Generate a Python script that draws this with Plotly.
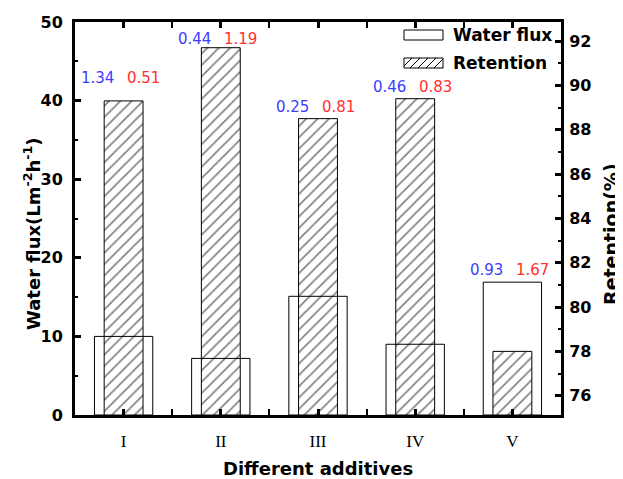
import plotly.graph_objects as go

# ---- data ----
categories = ["I", "II", "III", "IV", "V"]
water_flux = [10.0, 7.2, 15.1, 9.0, 16.9]          # Lm-2h-1 (left axis)
retention = [89.3, 91.7, 88.5, 89.4, 78.0]          # % (right axis)
flux_labels = ["1.34", "0.44", "0.25", "0.46", "0.93"]
retention_labels = ["0.51", "1.19", "0.81", "0.83", "1.67"]

xpos = list(range(1, len(categories) + 1))

Y1_RANGE = [0, 50]
Y2_RANGE = [75.13, 92.86]

BOLD = "DejaVu Sans"
W, H = 623, 479
# plot area in page pixels (page shows the figure offset by the body margin)
PAGE_OFF = 8
P_L, P_R, P_T, P_B = 75, 561, 22, 415
ML = P_L - PAGE_OFF
MT = P_T - PAGE_OFF
MR = W - (P_R - PAGE_OFF)
MB = H - (P_B - PAGE_OFF)
PW, PH = P_R - P_L, P_B - P_T


def px_x(p):
    return (p - P_L) / PW


def px_y(p):
    return (P_B - p) / PH


fig = go.Figure()

fig.add_trace(go.Bar(
    x=xpos, y=water_flux, width=0.6, name="Water flux",
    marker=dict(color="rgba(0,0,0,0)", line=dict(color="black", width=1)),
    yaxis="y", showlegend=False,
))
fig.add_trace(go.Bar(
    x=xpos, y=retention, width=0.4, name="Retention",
    marker=dict(color="rgba(0,0,0,0)", line=dict(color="black", width=1),
                pattern=dict(shape="/", fgcolor="black", bgcolor="rgba(0,0,0,0)",
                             size=8, solidity=0.2)),
    yaxis="y2", showlegend=False,
))

# value labels above each pair of bars
lift = [23, 9, 12, 12, 12]
annotations = []
for i, x in enumerate(xpos):
    f_frac = (water_flux[i] - Y1_RANGE[0]) / (Y1_RANGE[1] - Y1_RANGE[0])
    r_frac = (retention[i] - Y2_RANGE[0]) / (Y2_RANGE[1] - Y2_RANGE[0])
    if f_frac > r_frac:
        yref, yv = "y", water_flux[i]
    else:
        yref, yv = "y2", retention[i]
    annotations.append(dict(x=x, y=yv, xref="x", yref=yref, text=flux_labels[i],
                            showarrow=False, xanchor="center", yanchor="middle",
                            xshift=-26, yshift=lift[i],
                            font=dict(family="DejaVu Sans", size=15, color="#3c3cff")))
    annotations.append(dict(x=x, y=yv, xref="x", yref=yref, text=retention_labels[i],
                            showarrow=False, xanchor="center", yanchor="middle",
                            xshift=20, yshift=lift[i],
                            font=dict(family="DejaVu Sans", size=15, color="#ff3030")))

# custom legend (top right)
shapes = []
shapes.append(dict(type="rect", xref="paper", yref="paper",
                   x0=px_x(404), x1=px_x(443), y0=px_y(40), y1=px_y(30),
                   line=dict(color="black", width=1), fillcolor="white"))
shapes.append(dict(type="rect", xref="paper", yref="paper",
                   x0=px_x(404), x1=px_x(443), y0=px_y(68), y1=px_y(58),
                   line=dict(color="black", width=1), fillcolor="white"))
for k in range(6):
    xa = 404 + k * 8
    x0, y0 = xa - 2, 68
    x1, y1 = xa + 8, 58
    if x0 < 404:
        y0 = 68 - (404 - x0)
        x0 = 404
    if x1 > 443:
        y1 = 58 + (x1 - 443)
        x1 = 443
    if x1 <= x0:
        continue
    shapes.append(dict(type="line", xref="paper", yref="paper",
                       x0=px_x(x0), y0=px_y(y0), x1=px_x(x1), y1=px_y(y1),
                       line=dict(color="black", width=1)))
annotations.append(dict(xref="paper", yref="paper", x=px_x(451), y=px_y(35),
                        text="<b>Water flux</b>", showarrow=False,
                        xanchor="left", yanchor="middle",
                        font=dict(family=BOLD, size=17, color="black")))
annotations.append(dict(xref="paper", yref="paper", x=px_x(451), y=px_y(63),
                        text="<b>Retention</b>", showarrow=False,
                        xanchor="left", yanchor="middle",
                        font=dict(family=BOLD, size=17, color="black")))

# axis titles placed as annotations
annotations.append(dict(xref="paper", yref="paper", x=px_x(318), y=px_y(468),
                        text="<b>Different additives</b>", showarrow=False,
                        xanchor="center", yanchor="middle",
                        font=dict(family=BOLD, size=18, color="black")))
annotations.append(dict(xref="paper", yref="paper", x=px_x(32), y=px_y(234),
                        text="<b>Water flux(Lm<sup>-2</sup>h<sup>-1</sup>)</b>",
                        showarrow=False, textangle=-90,
                        xanchor="center", yanchor="middle",
                        font=dict(family=BOLD, size=18, color="black")))
annotations.append(dict(xref="paper", yref="paper", x=px_x(611), y=px_y(234),
                        text="<b>Retention(%)</b>",
                        showarrow=False, textangle=-90,
                        xanchor="center", yanchor="middle",
                        font=dict(family=BOLD, size=19, color="black")))

axis_common = dict(showline=True, linewidth=3, linecolor="black", ticks="inside",
                   ticklen=6, tickwidth=2.5, tickcolor="black", showgrid=False,
                   zeroline=False, automargin=False)

fig.update_layout(
    width=W, height=H,
    margin=dict(l=ML, r=MR, t=MT, b=MB, autoexpand=False),
    paper_bgcolor="white", plot_bgcolor="white",
    barmode="overlay",
    showlegend=False,
    xaxis=dict(**axis_common, range=[0.5, 5.5], tickvals=xpos, ticktext=categories,
               mirror="allticks",
               minor=dict(ticks="inside", ticklen=3, tickwidth=2, tickcolor="black",
                          tick0=0.5, dtick=1),
               tickfont=dict(family="Liberation Serif", size=17, color="black"),
               ticklabelstandoff=9),
    yaxis=dict(**axis_common, range=Y1_RANGE, tick0=0, dtick=10,
               minor=dict(ticks="inside", ticklen=3, tickwidth=2, tickcolor="black",
                          tick0=5, dtick=10),
               tickfont=dict(family=BOLD, size=16, color="black"),
               tickprefix="<b>", ticksuffix="</b>",
               ticklabelstandoff=6),
    yaxis2=dict(**axis_common, range=Y2_RANGE, overlaying="y", side="right",
                tick0=76, dtick=2,
                minor=dict(ticks="inside", ticklen=3, tickwidth=2, tickcolor="black",
                           tick0=77, dtick=2),
                tickfont=dict(family=BOLD, size=16, color="black"),
                tickprefix="<b>", ticksuffix="</b>",
                ticklabelstandoff=2),
    annotations=annotations,
    shapes=shapes,
)

fig.write_html("out.html")
